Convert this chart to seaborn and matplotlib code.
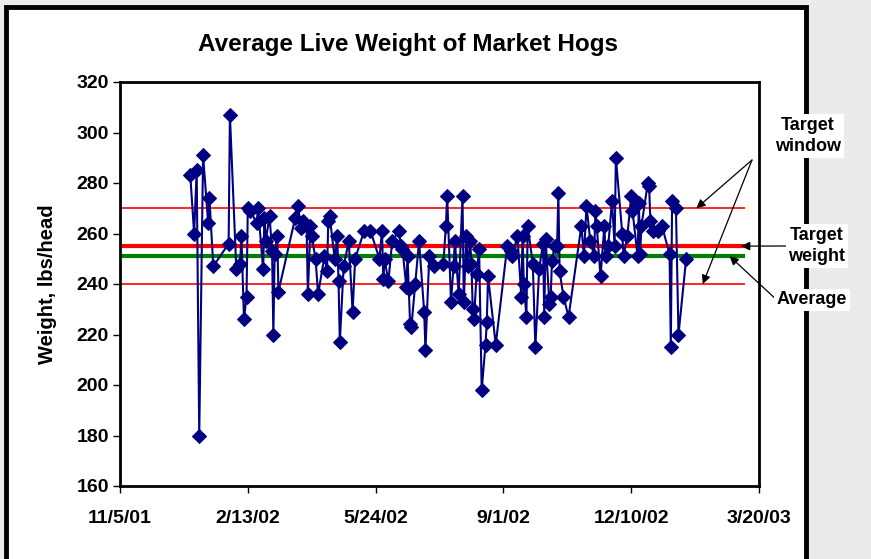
import pandas as pd
import seaborn as sns
import matplotlib.pyplot as plt
from matplotlib.patches import Rectangle

# ---------------------------------------
# Data
# ---------------------------------------
start_date = "2001-11-05"
days = [55, 58, 60, 62, 65, 69, 70, 73, 85, 86, 91, 94, 95, 97, 99, 100, 102,
        107, 108, 112, 113, 114, 117, 119, 120, 121, 123, 124, 137, 139, 142,
        143, 146, 147, 149, 150, 153, 155, 160, 162, 163, 164, 168, 170, 171,
        172, 175, 179, 182, 184, 191, 196, 203, 205, 206, 207, 210, 213, 218,
        220, 221, 224, 225, 226, 227, 228, 231, 234, 238, 239, 242, 246, 253,
        255, 256, 259, 261, 262, 265, 268, 269, 271, 272, 274, 275, 276, 277,
        279, 281, 283, 286, 287, 288, 294, 303, 306, 307, 311, 314, 315, 316,
        318, 319, 323, 325, 328, 331, 332, 333, 336, 337, 338, 340, 342, 343,
        344, 347, 351, 361, 363, 365, 368, 371, 372, 373, 376, 379, 380, 382,
        385, 387, 388, 393, 394, 397, 400, 401, 405, 406, 407, 408, 413, 414,
        415, 417, 421, 424, 430, 431, 432, 435, 437, 443]
weights = [283, 260, 285, 180, 291, 264, 274, 247, 256, 307, 246, 248, 259,
           226, 235, 270, 269, 264, 270, 246, 266, 257, 267, 253, 220, 252,
           259, 237, 266, 271, 262, 265, 263, 236, 263, 259, 250, 236, 251,
           245, 265, 267, 250, 259, 241, 217, 247, 257, 229, 250, 261, 261,
           250, 261, 242, 250, 241, 257, 261, 255, 254, 239, 251, 238, 224,
           223, 240, 257, 229, 214, 251, 247, 248, 263, 275, 233, 247, 257,
           236, 275, 233, 259, 247, 257, 248, 230, 226, 244, 254, 198, 216,
           225, 243, 216, 255, 253, 251, 259, 235, 259, 240, 227, 263, 248,
           215, 246, 256, 227, 258, 232, 235, 249, 255, 255, 276, 245, 235,
           227, 263, 251, 271, 257, 251, 269, 263, 243, 263, 251, 255, 273,
           255, 290, 260, 251, 259, 275, 269, 251, 272, 252, 263, 280, 279,
           265, 261, 261, 263, 252, 215, 273, 270, 220, 250]

target_window = [270, 240]
target_weight = 255
average_weight = 251
tick_labels = ["11/5/01", "2/13/02", "5/24/02", "9/1/02", "12/10/02", "3/20/03"]

t0 = pd.Timestamp(start_date)
df = pd.DataFrame({
    "Date": t0 + pd.to_timedelta(days, unit="D"),
    "Weight": weights,
})
tick_dates = pd.date_range(start_date, periods=len(tick_labels), freq="100D")
line_end = t0 + pd.Timedelta(days=489)

# ---------------------------------------
# Theme
# ---------------------------------------
sns.set_theme(style="white")
plt.rcParams["font.family"] = ["Liberation Sans", "DejaVu Sans"]
plt.rcParams["font.weight"] = "bold"
plt.rcParams["text.color"] = "black"
plt.rcParams["axes.labelcolor"] = "black"
plt.rcParams["xtick.color"] = "black"
plt.rcParams["ytick.color"] = "black"

fig = plt.figure(figsize=(8.71, 5.59), dpi=100, facecolor="#ebebeb")
# white chart area with heavy black frame (runs off the bottom edge)
fig.patches.append(Rectangle((6 / 871, -0.05), 800 / 871, 1.05 - 7 / 559,
                             transform=fig.transFigure, facecolor="white",
                             edgecolor="black", linewidth=3.5, zorder=-10))

ax = fig.add_axes([120 / 871, 1 - 486 / 559, 639 / 871, 404 / 559])
ax.set_facecolor("white")

# reference lines
for y in target_window:
    ax.hlines(y, tick_dates[0], line_end, color="red", linewidth=1.2, zorder=2)
ax.hlines(target_weight, tick_dates[0], line_end, color="red", linewidth=3, zorder=2)
ax.hlines(average_weight, tick_dates[0], line_end, color="green", linewidth=3, zorder=2)

sns.lineplot(data=df, x="Date", y="Weight", ax=ax, color="#000080",
             linewidth=1.5, marker="D", markersize=7.5,
             markeredgecolor="#000080", estimator=None, sort=False, zorder=3)

ax.set_xlim(tick_dates[0], tick_dates[-1])
ax.set_ylim(160, 320)
ax.set_yticks(range(160, 321, 20))
ax.set_xticks(tick_dates)
ax.set_xticklabels(tick_labels)
ax.tick_params(axis="both", length=5, width=1, color="black", labelsize=14,
               direction="out", left=True, bottom=True, pad=3)
ax.tick_params(axis="x", pad=12)
for side in ax.spines.values():
    side.set_color("black")
    side.set_linewidth(2)

ax.set_xlabel("")
ax.set_ylabel("Weight, lbs/head", fontsize=14.5, fontweight="bold", labelpad=14)
fig.text(408 / 871, 1 - 44 / 559, "Average Live Weight of Market Hogs",
         ha="center", va="center", fontsize=17.5, fontweight="bold")

# ---------------------------------------
# Annotations
# ---------------------------------------
box = dict(facecolor="white", edgecolor="none", pad=2)
arrow = dict(arrowstyle="-|>", color="black", linewidth=0.9,
             mutation_scale=13, shrinkA=0, shrinkB=0)

ax.annotate("Target\nwindow", xy=(808, 559 - 136), xycoords="figure pixels",
            ha="center", va="center", fontsize=13, fontweight="bold",
            linespacing=1.35, bbox=box, zorder=5, annotation_clip=False)
for xd, yv in [(451, target_window[0]), (456, target_window[1])]:
    ax.annotate("", xy=(t0 + pd.Timedelta(days=xd), yv),
                xytext=(752, 559 - 160), textcoords="figure pixels",
                arrowprops=arrow, zorder=4, annotation_clip=False)
ax.annotate("Target\nweight", xy=(t0 + pd.Timedelta(days=486), target_weight),
            xytext=(817, 559 - 246), textcoords="figure pixels",
            ha="center", va="center", fontsize=13, fontweight="bold",
            linespacing=1.35, bbox=box, zorder=5, annotation_clip=False,
            arrowprops=dict(arrow, relpos=(0, 0.5)))
ax.annotate("Average", xy=(t0 + pd.Timedelta(days=477), average_weight),
            xytext=(812, 559 - 300), textcoords="figure pixels",
            ha="center", va="center", fontsize=13, fontweight="bold",
            bbox=box, zorder=5, annotation_clip=False,
            arrowprops=dict(arrow, relpos=(0, 0.5)))

fig.savefig("out.png", dpi=100, facecolor=fig.get_facecolor())
